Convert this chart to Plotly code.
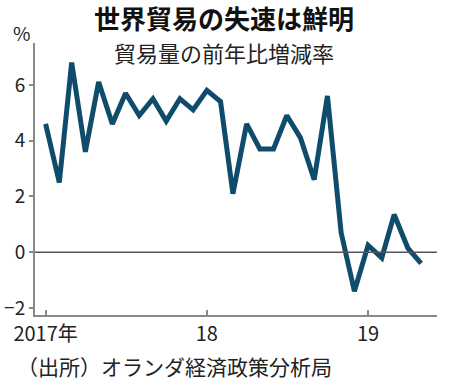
import plotly.graph_objects as go

months = ["2017-01-01", "2017-02-01", "2017-03-01", "2017-04-01", "2017-05-01", "2017-06-01",
          "2017-07-01", "2017-08-01", "2017-09-01", "2017-10-01", "2017-11-01", "2017-12-01",
          "2018-01-01", "2018-02-01", "2018-03-01", "2018-04-01", "2018-05-01", "2018-06-01",
          "2018-07-01", "2018-08-01", "2018-09-01", "2018-10-01", "2018-11-01", "2018-12-01",
          "2019-01-01", "2019-02-01", "2019-03-01", "2019-04-01", "2019-05-01"]
trade_growth = [4.6, 2.5, 6.8, 3.6, 6.1, 4.6, 5.7, 4.9, 5.5, 4.7, 5.5, 5.1,
                5.8, 5.4, 2.1, 4.6, 3.7, 3.7, 4.9, 4.1, 2.6, 5.6, 0.7, -1.4,
                0.25, -0.2, 1.35, 0.15, -0.4]
x_tick_vals = ["2017-01-01", "2018-01-01", "2019-01-01"]
x_tick_text = ["2017年", "18", "19"]
y_tick_vals = [-2, 0, 2, 4, 6]

FONT = "Noto Sans CJK JP"
TXT = "#222222"

fig = go.Figure()
fig.add_trace(go.Scatter(x=months, y=trade_growth, mode="lines",
                         line=dict(color="#0f4c6c", width=5), hoverinfo="skip"))

fig.add_hline(y=0, line=dict(color="#555555", width=1.5))

fig.update_layout(
    width=450, height=388,
    margin=dict(l=35, r=13, t=43, b=73),
    paper_bgcolor="white", plot_bgcolor="white",
    showlegend=False,
    font=dict(family=FONT, color=TXT),
    xaxis=dict(type="date", range=["2016-12-08", "2019-06-06"],
               tickvals=x_tick_vals, ticktext=x_tick_text,
               tickfont=dict(size=20, color=TXT), automargin=False,
               ticks="inside", ticklen=5, tickcolor="#888888", tickwidth=1.5,
               showgrid=False, zeroline=False,
               showline=True, linecolor="#888888", linewidth=2),
    yaxis=dict(range=[-2.25, 7.5], tickvals=y_tick_vals,
               tickfont=dict(size=19, color=TXT), automargin=False,
               ticks="outside", ticklen=4, tickcolor="#888888", tickwidth=1.5,
               showgrid=False, zeroline=False,
               showline=True, linecolor="#888888", linewidth=2),
    annotations=[
        dict(text="<b>世界貿易の失速は鮮明</b>", xref="paper", yref="paper",
             x=0.469, y=1.092, xanchor="center", yanchor="middle",
             showarrow=False, font=dict(size=26, color="#111111")),
        dict(text="貿易量の前年比増減率", xref="paper", yref="paper",
             x=0.471, y=0.966, xanchor="center", yanchor="middle",
             showarrow=False, font=dict(size=22, color=TXT)),
        dict(text="%", xref="paper", yref="paper",
             x=-0.032, y=1.037, xanchor="center", yanchor="middle",
             showarrow=False, font=dict(size=19, color=TXT)),
        dict(text="（出所）オランダ経済政策分析局", xref="paper", yref="paper",
             x=-0.05, y=-0.1875, xanchor="left", yanchor="middle",
             showarrow=False, font=dict(size=21, color=TXT)),
    ],
)

fig.write_html("out.html", config={"displayModeBar": False},
               post_script="document.body.style.margin='0';")
